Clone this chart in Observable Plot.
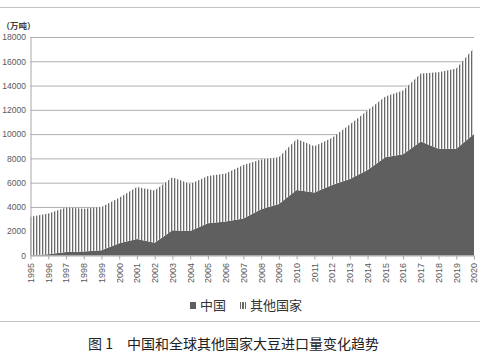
<!DOCTYPE html>
<html>
<head>
<meta charset="utf-8">
<script src="https://cdn.jsdelivr.net/npm/d3@7"></script>
<script src="https://cdn.jsdelivr.net/npm/@observablehq/plot@0.6"></script>
<style>
  html, body { margin: 0; padding: 0; background: #fff; }
  #wrap { position: relative; width: 480px; height: 360px; overflow: hidden; background: #fff; }
  #chart { position: absolute; left: 0; top: 0; }
  .frame { position: absolute; left: 0; width: 480px; height: 1px; background: #c4c4c4; }
  #legend { position: absolute; top: 297px; left: 0; width: 480px; height: 16px;
    font-family: "Noto Sans CJK SC", sans-serif; font-size: 13px; color: #333; }
  #legend span { position: absolute; line-height: 16px; }
  .sw { position: absolute; top: 5px; width: 6px; height: 7px; }
  #caption { position: absolute; top: 333px; left: 0; width: 480px; height: 20px;
    font-family: "Noto Sans CJK SC", sans-serif; font-size: 14px; color: #222; }
  #caption span { position: absolute; line-height: 20px; }
</style>
</head>
<body>
<div id="wrap">
  <div class="frame" style="top:7px"></div>
  <div id="chart"></div>
  <div id="legend">
    <div class="sw" style="left:190px;background:#5f5f5f"></div>
    <span style="left:200px">中国</span>
    <div class="sw" style="left:240px;background:repeating-linear-gradient(90deg,#6a6a6a 0 1.2px,#fff 1.2px 2.4px)"></div>
    <span style="left:250px">其他国家</span>
  </div>
  <div class="frame" style="top:321px"></div>
  <div id="caption"><span style="left:88px">图 1</span><span style="left:127px">中国和全球其他国家大豆进口量变化趋势</span></div>
</div>
<script>
const years = [1995, 1996, 1997, 1998, 1999, 2000, 2001, 2002, 2003, 2004, 2005, 2006, 2007,
  2008, 2009, 2010, 2011, 2012, 2013, 2014, 2015, 2016, 2017, 2018, 2019, 2020];
const china = [30, 110, 280, 320, 430, 1000, 1350, 1050, 2070, 2020, 2650, 2800, 3050,
  3800, 4250, 5400, 5200, 5800, 6300, 7050, 8100, 8350, 9400, 8800, 8800, 10000];
const others = [3170, 3340, 3670, 3530, 3570, 3750, 4300, 4300, 4380, 3880, 3900, 3950, 4400,
  4100, 3850, 4200, 3800, 3900, 4500, 4900, 5000, 5250, 5600, 6300, 6600, 7100];
const seriesNames = ["中国", "其他国家"];
const yTicks = [0, 2000, 4000, 6000, 8000, 10000, 12000, 14000, 16000, 18000];
const unitLabel = "（万吨）";

const rows = years.flatMap((yr, i) => [
  {year: yr, series: seriesNames[0], value: china[i]},
  {year: yr, series: seriesNames[1], value: others[i]}
]);

const svg = Plot.plot({
  width: 480,
  height: 296,
  marginTop: 37,
  marginBottom: 40.5,
  marginLeft: 30.5,
  marginRight: 6,
  style: {fontFamily: "Liberation Sans, Arial, sans-serif", background: "transparent", color: "#595959"},
  x: {type: "linear", domain: [1995, 2020]},
  y: {domain: [0, 18000]},
  color: {type: "ordinal", domain: seriesNames, range: ["#5f5f5f", "url(#hatch)"]},
  marks: [
    Plot.ruleY(yTicks.filter(d => d > 0), {stroke: "#b0b0b0", strokeWidth: 1, x1: 1995, x2: 2020}),
    Plot.areaY(rows, {x: "year", y: "value", z: "series", fill: "series"}),
    Plot.ruleY([0], {stroke: "#a8a8a8", x1: 1995, x2: 2020}),
    Plot.ruleX([1995], {stroke: "#a8a8a8", y1: 0, y2: 18000}),
    Plot.axisY({ticks: yTicks, tickSize: 0, tickPadding: 5, fontSize: 8.5, tickFormat: d => String(d), label: null}),
    Plot.axisX({ticks: years, tickFormat: d => String(d), tickRotate: -90, tickSize: 4, tickPadding: 3,
      fontSize: 9, stroke: "#a8a8a8", label: null}),
    Plot.text([unitLabel], {frameAnchor: "top-left", text: d => d, textAnchor: "start", dx: -29.5, dy: -15,
      fontSize: 8.5, fontWeight: "bold", fill: "#404040", fontFamily: "Noto Sans CJK SC"})
  ]
});

d3.select(svg).insert("defs", ":first-child").html(
  '<pattern id="hatch" patternUnits="userSpaceOnUse" width="3" height="6">' +
  '<rect width="3" height="6" fill="#ffffff"/>' +
  '<rect width="1.3" height="6" fill="#6a6a6a"/></pattern>'
);

document.getElementById("chart").appendChild(svg);
</script>
</body>
</html>
